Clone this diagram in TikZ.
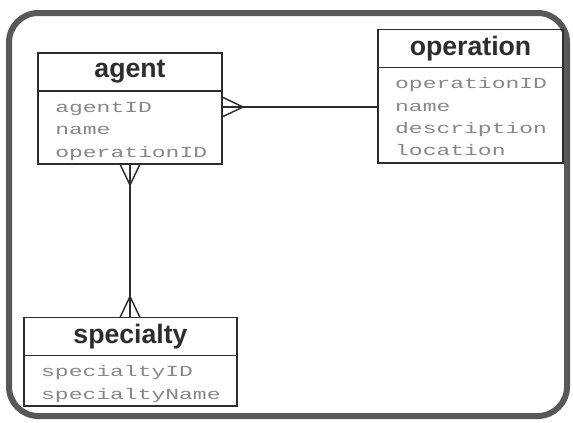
\documentclass[tikz,border=0pt]{standalone}
\usepackage{fontspec}
\usepackage{xcolor}
\usepackage{tikz}
\usetikzlibrary{positioning}
\newfontfamily\headfont{Liberation Sans}
\newfontfamily\attrfont[FakeStretch=1.5]{Liberation Mono}
\definecolor{framegray}{RGB}{88,88,88}
\definecolor{boxline}{RGB}{45,45,45}
\definecolor{attrgray}{RGB}{135,135,135}
\newcommand\topstrut{\rule{0pt}{13.8pt}}
\newcommand\botstrut{\rule[-2.93pt]{0pt}{2.93pt}}

\tikzset{
  entity/.style={draw=boxline, line width=1.2pt, outer sep=0pt, inner sep=0pt,
    minimum width=#1, minimum height=28.5pt, text=boxline,
    font=\headfont\bfseries\fontsize{20}{24}\selectfont},
  attrs/.style={draw=boxline, line width=1.2pt, outer sep=0pt, inner xsep=13pt, inner ysep=2.3pt,
    text width=#1, align=left, text=attrgray,
    font=\attrfont\fontsize{11.5}{16.73}\selectfont,
    execute at begin node=\topstrut, execute at end node=\botstrut},
  crowfoot/.pic={\draw[boxline, line width=1.1pt] (0,-10) -- (21,0) -- (0,10);},
}

\begin{document}
\begin{tikzpicture}[x=0.75pt,y=-0.75pt]
  \useasboundingbox (0,0) rectangle (573,422);
  \draw[framegray, line width=4.5pt, rounded corners=22pt] (9,13) rectangle (567,416);

  \node[entity=138pt] (agent) at (130,72) {agent};
  \node[attrs=112pt, below=0pt of agent] (agent-attr) {agentID\\name\\operationID};

  \node[entity=139pt] (operation) at (470.5,48.5) {operation};
  \node[attrs=113pt, below=0pt of operation] (operation-attr) {operationID\\name\\description\\location};

  \node[entity=160pt] (specialty) at (130.5,336.5) {specialty};
  \node[attrs=134pt, below=0pt of specialty] (specialty-attr) {specialtyID\\specialtyName};

  \path (agent-attr.north east) ++(0,16) coordinate (agent-op);
  \draw[boxline, line width=1.1pt] (agent-op) -- (agent-op -| operation-attr.west);
  \pic at (agent-op) {crowfoot};

  \draw[boxline, line width=1.1pt] (agent-attr.south) -- (agent-attr.south |- specialty.north);
  \pic[rotate=-90] at (agent-attr.south) {crowfoot};
  \pic[rotate=90] at (agent-attr.south |- specialty.north) {crowfoot};
\end{tikzpicture}
\end{document}
